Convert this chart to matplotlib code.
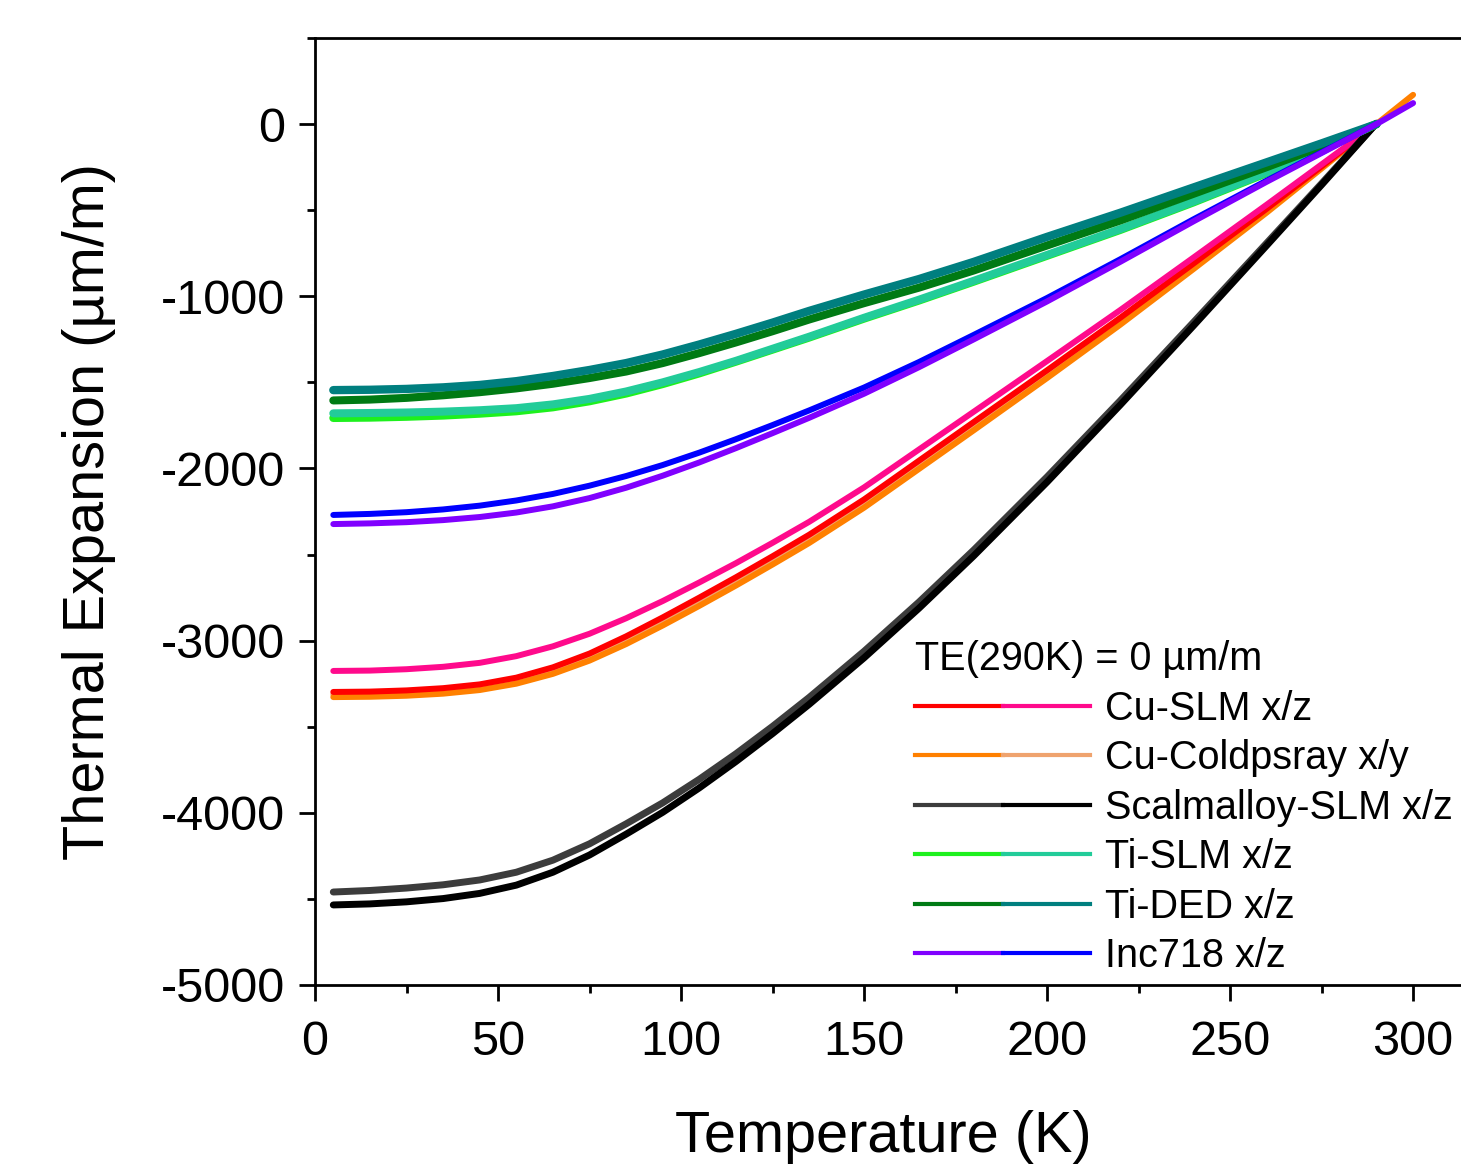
import numpy as np
import matplotlib
matplotlib.use('Agg')
import matplotlib.pyplot as plt
from matplotlib.lines import Line2D
from matplotlib.legend_handler import HandlerTuple
from matplotlib.ticker import MultipleLocator

plt.rcParams['font.family'] = ['Liberation Sans', 'DejaVu Sans']
plt.rcParams['axes.unicode_minus'] = False

nan = np.nan

# Temperature grid (K) (um/m)
temp_k = [5, 15, 25, 35, 45, 55, 65, 75, 85, 95, 105, 115, 125, 135, 150, 165, 180, 200, 220, 240, 260, 275, 290, 300]

cu_slm_x = [-3298, -3296, -3289, -3276, -3254, -3215, -3155, -3075, -2975, -2865, -2750, -2632,
            -2510, -2385, -2180, -1955, -1730, -1430, -1125, -810, -492, -246, 0, nan]
cu_slm_z = [-3176, -3174, -3166, -3152, -3129, -3090, -3033, -2960, -2870, -2770, -2662, -2550,
            -2432, -2310, -2110, -1890, -1670, -1376, -1080, -775, -468, -234, 0, nan]
cu_cold_x = [-3328, -3326, -3320, -3308, -3287, -3250, -3193, -3116, -3020, -2912, -2798, -2680,
             -2558, -2433, -2228, -2003, -1778, -1475, -1165, -842, -514, -258, 0, 170]
cu_cold_y = [-3313, -3311, -3305, -3293, -3272, -3235, -3178, -3101, -3005, -2897, -2783, -2665,
             -2543, -2418, -2213, -1988, -1763, -1460, -1150, -827, -499, -243, 0, nan]
scal_x = [-4460, -4451, -4437, -4418, -4390, -4345, -4275, -4180, -4064, -3942, -3805, -3657,
          -3498, -3330, -3062, -2776, -2473, -2049, -1606, -1151, -691, -345, 5, nan]
scal_z = [-4535, -4529, -4517, -4498, -4468, -4420, -4345, -4245, -4124, -3997, -3855, -3702,
          -3540, -3370, -3100, -2812, -2507, -2079, -1631, -1171, -705, -353, 5, nan]
ti_slm_x = [-1707, -1705, -1700, -1693, -1682, -1668, -1645, -1610, -1565, -1510, -1448, -1380,
            -1310, -1240, -1130, -1025, -915, -765, -615, -455, -285, -148, 0, nan]
ti_slm_z = [-1680, -1678, -1675, -1670, -1662, -1650, -1628, -1596, -1553, -1500, -1440, -1375,
            -1305, -1235, -1125, -1020, -910, -760, -610, -450, -280, -145, 0, nan]
ti_ded_x = [-1605, -1600, -1590, -1575, -1557, -1535, -1508, -1475, -1437, -1388, -1330, -1268,
            -1203, -1135, -1040, -950, -850, -705, -560, -405, -250, -130, 0, nan]
ti_ded_z = [-1545, -1543, -1538, -1529, -1515, -1493, -1463, -1428, -1388, -1338, -1280, -1218,
            -1153, -1085, -990, -900, -800, -655, -515, -368, -222, -112, 0, nan]
inc_x = [-2323, -2319, -2312, -2300, -2282, -2256, -2220, -2172, -2112, -2042, -1965, -1882,
         -1795, -1706, -1566, -1412, -1250, -1030, -800, -565, -335, -168, 0, 122]
inc_z = [-2270, -2264, -2254, -2238, -2216, -2186, -2148, -2100, -2044, -1980, -1908, -1830,
         -1748, -1663, -1530, -1382, -1224, -1010, -785, -553, -328, -164, 0, nan]

labels = ['Cu-SLM x/z', 'Cu-Coldpsray x/y', 'Scalmalloy-SLM x/z', 'Ti-SLM x/z', 'Ti-DED x/z', 'Inc718 x/z']
pair_colors = [('#FF0000', '#FF0A8C'), ('#FF8000', '#EFA36E'), ('#3C3C3C', '#000000'),
               ('#1EF01E', '#22CC99'), ('#007A14', '#007F7F'), ('#8000FF', '#0000FF')]

fig = plt.figure(figsize=(14.61, 11.67), dpi=100)
ax = fig.add_axes([315 / 1461, 182 / 1167, 1153 / 1461, 947 / 1167])

# drawing order: later series end up on top
curves = [
    (cu_cold_y, '#EFA36E', 4.3), (cu_cold_x, '#FF8000', 4.3),
    (cu_slm_x, '#FF0000', 4.3), (cu_slm_z, '#FF0A8C', 4.3),
    (scal_x, '#3C3C3C', 5), (scal_z, '#000000', 5),
    (ti_slm_x, '#1EF01E', 5.8), (ti_slm_z, '#22CC99', 5.8),
    (ti_ded_x, '#007A14', 5.8), (ti_ded_z, '#007F7F', 6),
    (inc_z, '#0000FF', 4.3), (inc_x, '#8000FF', 4.3),
]
for vals, col, lw in curves:
    ax.plot(temp_k, vals, color=col, lw=lw, solid_capstyle='round', solid_joinstyle='round')

ax.set_xlim(0, 315)
ax.set_ylim(-5000, 500)
ax.xaxis.set_major_locator(MultipleLocator(50))
ax.xaxis.set_minor_locator(MultipleLocator(25))
ax.yaxis.set_major_locator(MultipleLocator(1000))
ax.yaxis.set_minor_locator(MultipleLocator(500))
ax.tick_params(which='both', direction='out', width=2, top=False, right=False)
ax.tick_params(which='major', length=11.5, labelsize=35)
ax.tick_params(which='minor', length=6)
ax.tick_params(axis='y', which='major', pad=10)
ax.tick_params(axis='x', which='major', pad=13.6)
for s in ['left', 'bottom', 'top']:
    ax.spines[s].set_linewidth(2)
ax.spines['right'].set_visible(False)

ax.set_xlabel('Temperature (K)', fontsize=41.5)
ax.set_ylabel('Thermal Expansion (µm/m)', fontsize=41.5)
ax.xaxis.set_label_coords(0.4926, -0.1325)
ax.yaxis.set_label_coords(-0.1726, 0.5)

handles = [(Line2D([], [], color=a, lw=3), Line2D([], [], color=b, lw=3)) for a, b in pair_colors]
leg = ax.legend(handles, labels, handler_map={tuple: HandlerTuple(ndivide=None, pad=0)},
                loc='upper left', bbox_to_anchor=(593 / 1153, 352 / 947), frameon=False,
                fontsize=28.5, title='TE(290K) = 0 µm/m', title_fontsize=28.5,
                alignment='left', borderpad=0.18, borderaxespad=0, handlelength=4.42,
                handletextpad=0.38, labelspacing=0.29)

fig.savefig('out.png', dpi=100)
